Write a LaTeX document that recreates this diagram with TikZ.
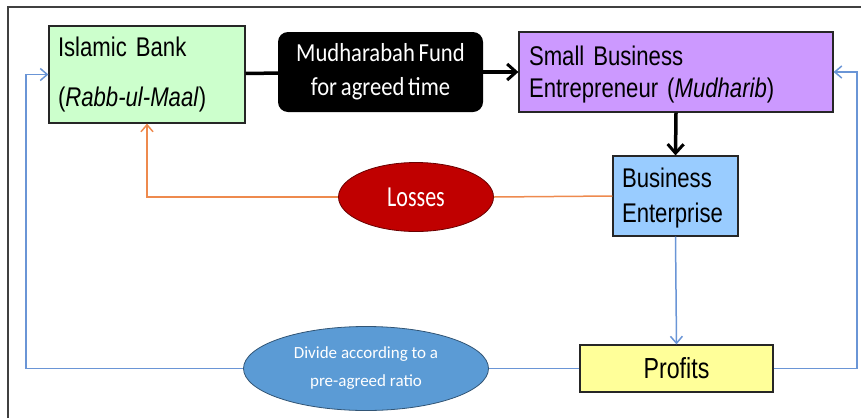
\documentclass[tikz,border=0pt]{standalone}
\usepackage{fontspec}
\setmainfont{Liberation Sans}[FakeStretch=0.82,WordSpace=0.6]
\newfontfamily\calibri{Carlito}
\newfontfamily\fundfont{Carlito}[FakeStretch=0.87,WordSpace=0.75]
\newfontfamily\lossfont{Carlito}[FakeStretch=0.76]
\newfontfamily\profitfont{Liberation Sans}[FakeStretch=0.8]
\usetikzlibrary{arrows.meta,shapes.geometric}
\definecolor{BankClr}{HTML}{CCFFCC}
\definecolor{MudharibClr}{HTML}{CC99FF}
\definecolor{EnterClr}{HTML}{99CCFF}
\definecolor{ProfitClr}{HTML}{FFFF99}
\definecolor{LossClr}{HTML}{C00000}
\definecolor{DivideClr}{HTML}{5B9BD5}
\definecolor{OrangeClr}{HTML}{EE8A4E}
\definecolor{BlueClr}{HTML}{6A95D6}
\definecolor{FrameClr}{HTML}{404040}

\begin{document}
\begin{tikzpicture}[x=1pt,y=-1pt,
  box/.style={draw=black!85,line width=1.2pt,inner ysep=0pt,align=left},
  oval/.style={ellipse,draw=#1!55!black,line width=.8pt,inner sep=0pt,text=white},
  thickarr/.style={line width=3.5pt,-{Straight Barb[length=9pt,width=16pt,line width=3pt]}},
  blueline/.style={line width=1.5pt,draw=BlueClr},
  orangeline/.style={line width=1.5pt,draw=OrangeClr},
  thintip/.style={-{Straight Barb[length=7pt,width=12pt,line width=1.5pt]}}]
\useasboundingbox (0,0) rectangle (861,418);
\draw[FrameClr,line width=1.3pt] (8,418) -- (8,7) -- (861,7);

\node[box,fill=BankClr,minimum width=196pt,minimum height=97pt,inner xsep=9pt,
  text width=178pt,font=\fontsize{27}{50}\selectfont] (bank) at (147,74.5)
  {Islamic Bank\\(\textit{Rabb-ul-Maal})};
\node[fill=black,rounded corners=10pt,minimum width=205pt,minimum height=80pt,
  align=center,text=white,font=\fundfont\fontsize{26}{34}\selectfont] (fund) at (380.5,72)
  {Mudharabah Fund\\for agreed time};
\node[box,fill=MudharibClr,minimum width=314pt,minimum height=80pt,inner xsep=10pt,
  text width=294pt,font=\fontsize{27}{32}\selectfont] (sbe) at (676,72)
  {\rule{0pt}{24pt}Small Business\\Entrepreneur (\textit{Mudharib})};
\node[box,fill=EnterClr,minimum width=125pt,minimum height=80pt,inner xsep=9pt,
  text width=107pt,font=\fontsize{27}{35}\selectfont] (ent) at (675.5,196)
  {\rule{0pt}{23pt}Business\\Enterprise};
\node[box,fill=ProfitClr,minimum width=193pt,minimum height=47pt,align=center,
  font=\profitfont\fontsize{29}{32}\selectfont] (profit) at (676.5,368.5) {Profits};
\node[oval=LossClr,fill=LossClr,minimum width=155pt,minimum height=69pt,
  font=\lossfont\fontsize{29}{32}\selectfont] (loss) at (416,197) {Losses};
\node[oval=DivideClr,fill=DivideClr,minimum width=245pt,minimum height=84pt,align=center,
  font=\calibri\fontsize{17}{28}\selectfont] (divide) at (366,368.5)
  {Divide according to a\\pre-agreed ratio};

\coordinate (lturn) at (26,74.5);
\coordinate (rturn) at (857,72);

\draw[line width=3.5pt] (bank) -- (fund);
\draw[thickarr] (fund) -- (sbe);
\draw[thickarr] (sbe.south) -- (ent.north);

\draw[orangeline] (ent.west) -- (loss.east);
\draw[orangeline,thintip] (loss.west) -| (bank.south);

\draw[blueline,thintip] (ent.south) -- (profit.north);
\draw[blueline] (profit.west) -- (divide.east);
\draw[blueline,thintip] (divide.west) -| (lturn) -- (bank.west);
\draw[blueline,thintip] (profit.east) -| (rturn) -- (sbe.east);
\end{tikzpicture}
\end{document}
